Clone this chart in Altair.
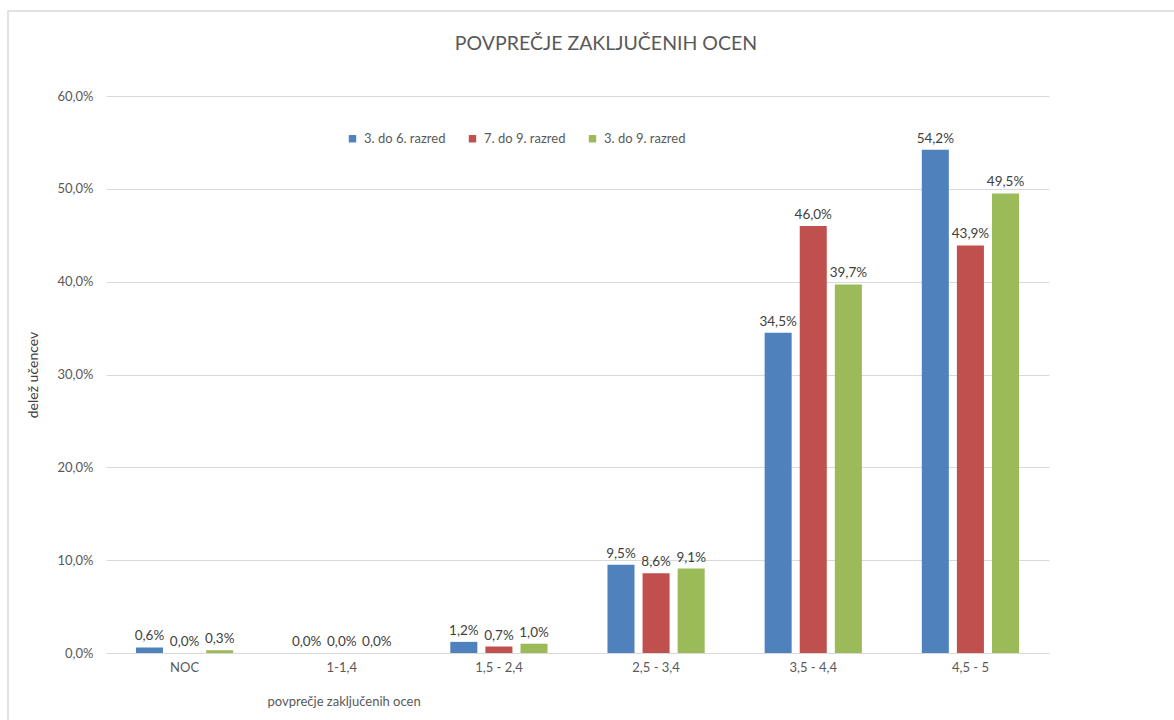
import altair as alt
import pandas as pd

categories = ["NOC", "1-1,4", "1,5 - 2,4", "2,5 - 3,4", "3,5 - 4,4", "4,5 - 5"]
series = ["3. do 6. razred", "7. do 9. razred", "3. do 9. razred"]
v_3_6 = [0.6, 0.0, 1.2, 9.5, 34.5, 54.2]
v_7_9 = [0.0, 0.0, 0.7, 8.6, 46.0, 43.9]
v_3_9 = [0.3, 0.0, 1.0, 9.1, 39.7, 49.5]
colors = ["#4f81bd", "#c0504d", "#9bbb59"]
y_ticks = [0, 10, 20, 30, 40, 50, 60]
title_text = "POVPREČJE ZAKLJUČENIH OCEN"

rows = []
for s, vals in zip(series, [v_3_6, v_7_9, v_3_9]):
    for c, v in zip(categories, vals):
        rows.append({"cat": c, "series": s, "value": v,
                     "label": f"{v:.1f}".replace(".", ",") + "%"})
df = pd.DataFrame(rows)

FONT = "Lato"
W, H = 943, 557
LEFT, TOP = 106, 96

x_enc = alt.X("cat:N", sort=categories,
              scale=alt.Scale(paddingInner=0.33, paddingOuter=0.165),
              axis=alt.Axis(title="povprečje zaključenih ocen", labelAngle=0,
                            ticks=False, domainColor="#d9d9d9", domainWidth=1,
                            labelColor="#595959", labelFontSize=13, labelFont=FONT,
                            labelPadding=8, titleFont=FONT, titleFontSize=13,
                            titleFontWeight="normal", titleColor="#595959",
                            titleAnchor="start", titleAlign="left",
                            titleX=161, titleY=48, titleBaseline="middle",
                            grid=False))
xo_enc = alt.XOffset("series:N", sort=series,
                     scale=alt.Scale(paddingInner=0.23, paddingOuter=0.115))
y_enc = alt.Y("value:Q", scale=alt.Scale(domain=[0, 60]),
              axis=alt.Axis(title="delež učencev", values=y_ticks,
                            labelExpr="replace(format(datum.value, '.1f'), '.', ',') + '%'",
                            ticks=False, domain=False, gridColor="#d9d9d9",
                            labelColor="#595959", labelFontSize=13, labelFont=FONT,
                            labelPadding=13, titleFont=FONT, titleFontSize=14,
                            titleFontWeight="normal", titleColor="#404040",
                            titleX=-73, titleBaseline="middle"))
color_enc = alt.Color("series:N", sort=series,
                      scale=alt.Scale(domain=series, range=colors),
                      legend=alt.Legend(orient="none", direction="horizontal",
                                        legendX=240, legendY=36, title=None,
                                        symbolType="square", symbolSize=55,
                                        symbolStrokeWidth=0,
                                        labelFont=FONT, labelFontSize=13,
                                        labelColor="#595959", labelOffset=5,
                                        columnPadding=20))

base = alt.Chart(df)
bars = base.mark_bar().encode(x=x_enc, xOffset=xo_enc, y=y_enc, color=color_enc)
labels = base.mark_text(baseline="bottom", dy=-4, font=FONT, fontSize=13.5,
                        color="#404040").encode(
    x=alt.X("cat:N", sort=categories),
    xOffset=alt.XOffset("series:N", sort=series),
    y=alt.Y("value:Q"), text="label:N")

one = alt.Data(values=[{"t": title_text}])
frame = alt.Chart(one).mark_rect(
    fillOpacity=0, stroke="#d9d9d9", strokeWidth=1.5).encode(
    x=alt.value(8 - LEFT), x2=alt.value(1190 - LEFT),
    y=alt.value(11 - TOP), y2=alt.value(740 - TOP))
title = alt.Chart(one).mark_text(font=FONT, fontSize=19.5, color="#595959",
                                 baseline="middle", align="center").encode(
    x=alt.value(606 - LEFT), y=alt.value(44 - TOP), text="t:N")

chart = alt.layer(frame, title, bars, labels).properties(
    width=W, height=H,
    autosize=alt.AutoSizeParams(type="none"),
    padding={"left": LEFT, "top": TOP, "right": 1174 - LEFT - W, "bottom": 720 - TOP - H},
).configure(background="white").configure_view(
    strokeWidth=0, stroke="transparent").configure_axisY(domain=False)

chart.save("out.html", embed_options={"renderer": "svg", "actions": False})
